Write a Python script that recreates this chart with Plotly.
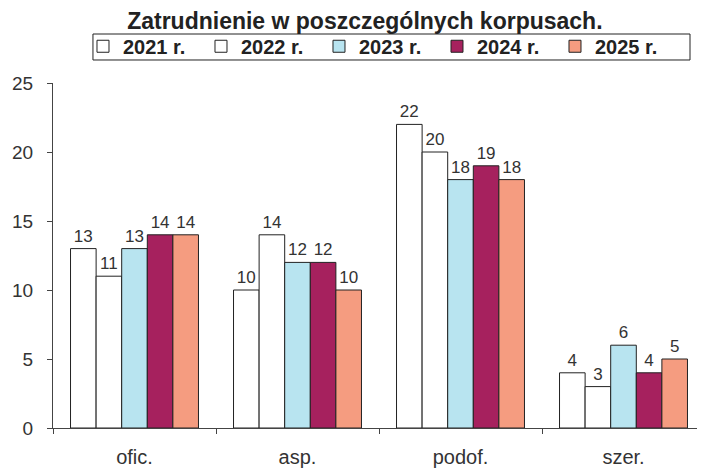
import plotly.graph_objects as go

categories = ["ofic.", "asp.", "podof.", "szer."]
series_names = ["2021 r.", "2022 r.", "2023 r.", "2024 r.", "2025 r."]
values_2021 = [13, 10, 22, 4]
values_2022 = [11, 14, 20, 3]
values_2023 = [13, 12, 18, 6]
values_2024 = [14, 12, 19, 4]
values_2025 = [14, 10, 18, 5]
series_values = [values_2021, values_2022, values_2023, values_2024, values_2025]
colors = ["#ffffff", "#ffffff", "#b8e4f0", "#a6215e", "#f59c80"]

fig = go.Figure()
for name, vals, col in zip(series_names, series_values, colors):
    fig.add_trace(go.Bar(
        x=categories, y=vals, name=name,
        marker=dict(color=col, line=dict(color="#222222", width=1)),
        text=vals, textposition="outside", cliponaxis=False,
        constraintext="none",
        textfont=dict(family="Arial", size=17, color="#333333"),
    ))

# legend frame
fig.add_shape(type="rect", xref="paper", yref="paper",
              x0=0.0613, x1=0.977, y0=1.0667, y1=1.142,
              line=dict(color="#222222", width=1), fillcolor="rgba(0,0,0,0)")

fig.update_layout(
    width=697, height=462,
    margin=dict(l=45, r=0, t=75, b=42, autoexpand=False),
    paper_bgcolor="white", plot_bgcolor="white",
    barmode="group", bargap=0.215, bargroupgap=0,
    font=dict(family="Arial", color="#333333"),
    title=dict(text="<b>Zatrudnienie w poszczególnych korpusach.</b>",
               x=0.512, xref="container", xanchor="center",
               y=0.972, yref="container", yanchor="middle",
               font=dict(family="Arial", size=23, color="#222222")),
    legend=dict(orientation="h", x=0.046, xref="paper", xanchor="left",
                y=1.163, yref="paper", yanchor="top",
                borderwidth=0, bgcolor="rgba(0,0,0,0)",
                itemwidth=30,
                entrywidth=73, entrywidthmode="pixels",
                font=dict(family="Arial", size=20, color="#222222", weight="bold"),
                tracegroupgap=0),
    showlegend=True,
)
fig.update_yaxes(range=[0, 25], dtick=5, showgrid=False, zeroline=False,
                 showline=True, linecolor="#444444", linewidth=1,
                 ticks="outside", ticklen=5, tickcolor="#444444",
                 ticklabelstandoff=10, automargin=False,
                 tickfont=dict(family="Arial", size=19, color="#333333"))
fig.update_xaxes(showgrid=False, showline=True, linecolor="#444444", linewidth=1,
                 ticks="outside", tickson="boundaries", ticklen=5, tickcolor="#444444",
                 ticklabelstandoff=11, automargin=False,
                 tickfont=dict(family="Arial", size=20, color="#333333"))

fig.write_html("out.html")
